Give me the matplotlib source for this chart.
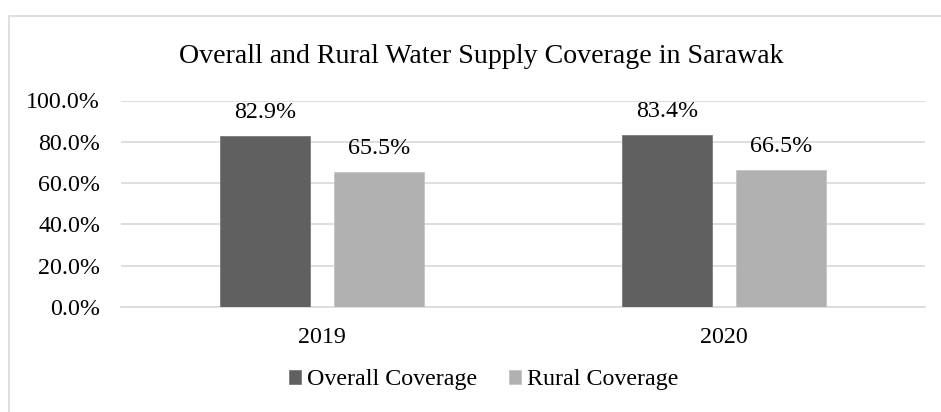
import matplotlib
matplotlib.use("Agg")
import matplotlib.pyplot as plt
from matplotlib.patches import Rectangle
from matplotlib.ticker import FuncFormatter

years = ["2019", "2020"]
overall = [82.9, 83.4]
rural = [65.5, 66.5]
series_names = ["Overall Coverage", "Rural Coverage"]
yticks = [0, 20, 40, 60, 80, 100]

plt.rcParams['font.family'] = ['Liberation Serif', 'DejaVu Serif']

W, H = 941, 412
FS = 17.3
fig = plt.figure(figsize=(W / 100, H / 100), dpi=100)
fig.patch.set_facecolor('white')

# outer chart border
fig.patches.append(Rectangle((9 / W, -0.01), 1.05, (H - 16) / H + 0.01,
                             transform=fig.transFigure, fill=False,
                             edgecolor='#d9d9d9', linewidth=1.2))

ax = fig.add_axes([121 / W, 105 / H, (925 - 121) / W, (307 - 100.5) / H])
c_over = '#606060'
c_rur = '#b1b1b1'
x = list(range(len(years)))
bw = 0.224
off = 0.142
b1 = ax.bar([i - off for i in x], overall, width=bw, color=c_over,
            edgecolor='#7a7a7a', linewidth=0.6, label=series_names[0], zorder=3)
b2 = ax.bar([i + off for i in x], rural, width=bw, color=c_rur,
            edgecolor='#c4c4c4', linewidth=0.6, label=series_names[1], zorder=3)

for bars, vals in ((b1, overall), (b2, rural)):
    for r, v in zip(bars, vals):
        ax.annotate(f"{v:.1f}%", (r.get_x() + r.get_width() / 2, v),
                    xytext=(0, 12.7), textcoords='offset points',
                    ha='center', va='baseline', fontsize=FS, color='#000000')

ax.set_xlim(-0.5, len(years) - 0.5)
ax.set_ylim(0, 100)
ax.set_yticks(yticks)
ax.yaxis.set_major_formatter(FuncFormatter(lambda v, p: f"{v:.1f}%"))
ax.set_xticks(x)
ax.set_xticklabels(years)
ax.tick_params(axis='both', length=0, labelsize=FS, colors='#000000')
ax.tick_params(axis='y', pad=15)
ax.tick_params(axis='x', pad=14.5)
ax.grid(axis='y', color='#d9d9d9', linewidth=1.2, zorder=0)
for s in ['top', 'right', 'left']:
    ax.spines[s].set_visible(False)
ax.spines['bottom'].set_color('#d9d9d9')
ax.spines['bottom'].set_linewidth(1.2)

fig.text(481 / W, 1 - 63 / H, "Overall and Rural Water Supply Coverage in Sarawak",
         ha='center', va='baseline', fontsize=20.1, color='#000000')

leg = fig.legend(handles=[b1, b2], labels=series_names, loc='center',
                 bbox_to_anchor=(484 / W, 1 - 380 / H), ncol=2, frameon=False,
                 fontsize=FS, handlelength=0.5, handleheight=0.5,
                 handletextpad=0.25, columnspacing=1.33, borderpad=0)

fig.savefig("out.png", dpi=100, facecolor='white')
